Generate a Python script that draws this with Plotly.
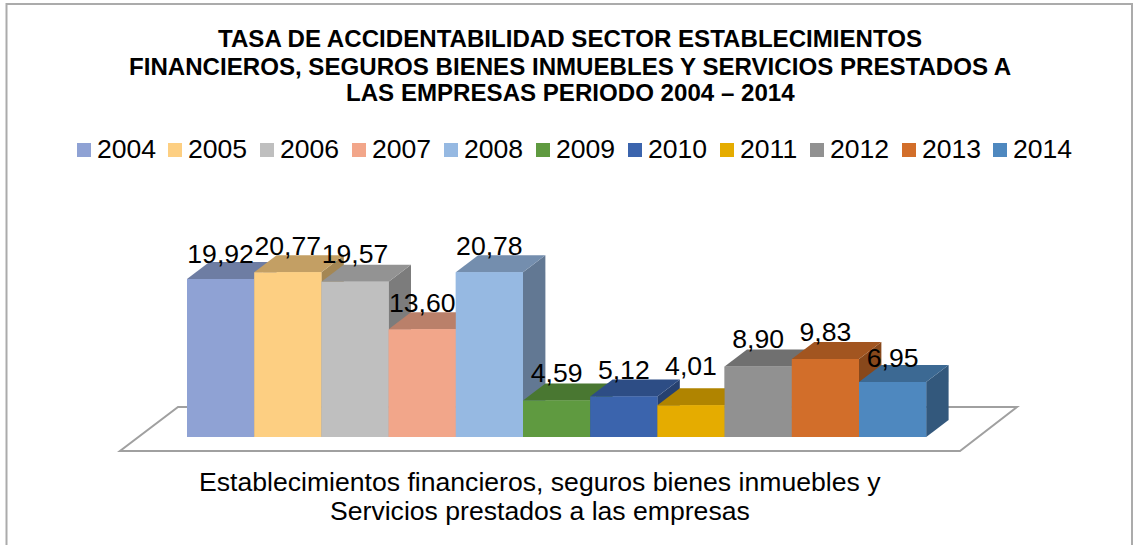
import plotly.graph_objects as go

years = ["2004", "2005", "2006", "2007", "2008", "2009", "2010", "2011", "2012", "2013", "2014"]
rates = [19.92, 20.77, 19.57, 13.60, 20.78, 4.59, 5.12, 4.01, 8.90, 9.83, 6.95]
labels = ["19,92", "20,77", "19,57", "13,60", "20,78", "4,59", "5,12", "4,01", "8,90", "9,83", "6,95"]
colors = ["#8FA2D4", "#FDCF82", "#BFBFBF", "#F2A68A", "#96B9E2", "#5F9A40",
          "#3B64AD", "#E5AC00", "#919191", "#D26E2A", "#4E88BF"]
title_lines = ["TASA DE ACCIDENTABILIDAD SECTOR ESTABLECIMIENTOS",
               "FINANCIEROS, SEGUROS BIENES INMUEBLES Y SERVICIOS PRESTADOS A",
               "LAS EMPRESAS PERIODO 2004 – 2014"]
axis_lines = ["Establecimientos financieros, seguros bienes inmuebles y",
              "Servicios prestados a las empresas"]

W, H = 1133, 545
PX_X, PX_Y = 67.2, 7.93          # pixels per category / per value unit
X0_PX, BASE_PX = 187.0, 437.0    # left edge of first bar, baseline
DX, DY = 22.4 / PX_X, 17 / PX_Y  # 3D depth in data units
LABEL_UP_PX = [23, 24, 25, 24, 24, 25, 24, 37, 25, 25, 22]
FONT = "Liberation Sans"
TEXT_SIZE = 26.6
LEGEND_X = [77, 168, 260, 352, 444, 536, 628, 720, 810, 902, 993]

x_range = [-X0_PX / PX_X - 0.5, (W - X0_PX) / PX_X - 0.5]
y_range = [-(H - BASE_PX) / PX_Y, BASE_PX / PX_Y]


def shade(hex_color, f):
    r, g, b = (int(hex_color[i:i + 2], 16) for i in (1, 3, 5))
    return f"rgb({r * f:.0f},{g * f:.0f},{b * f:.0f})"


def face(xs, ys, color):
    return go.Scatter(x=xs, y=ys, mode="lines", fill="toself", fillcolor=color,
                      line=dict(width=0), showlegend=False, hoverinfo="skip")


def text_note(text, x_px, y_px, size, anchor="center"):
    return dict(text=text, xref="paper", yref="paper", x=x_px / W, y=1 - y_px / H,
                showarrow=False, xanchor=anchor, yanchor="middle", borderpad=0, xshift=0,
                font=dict(family=FONT, size=size, color="#000"))


fig = go.Figure()
for i, (yr, v, c) in enumerate(zip(years, rates, colors)):
    fig.add_trace(go.Bar(x=[i], y=[v], name=yr, width=1, marker=dict(color=c, line=dict(width=0)),
                         showlegend=False))

for i, (v, c) in enumerate(zip(rates, colors)):
    l, r = i - 0.5, i + 0.5
    fig.add_trace(face([r, r + DX, r + DX, r, r], [0, DY, v + DY, v, 0], shade(c, 0.65)))
    fig.add_trace(face([l, r, r + DX, l + DX, l], [v, v, v + DY, v + DY, v], shade(c, 0.77)))
    fig.add_trace(face([l, r, r, l, l], [0, 0, v, v, 0], c))

fig.add_trace(go.Scatter(x=list(range(len(rates))),
                         y=[v + up / PX_Y for v, up in zip(rates, LABEL_UP_PX)],
                         mode="text", text=labels, textposition="middle center",
                         textfont=dict(family=FONT, size=TEXT_SIZE, color="#000"),
                         showlegend=False, hoverinfo="skip"))

floor = [(120, 451), (960, 451), (1017, 407), (178, 407)]
floor_path = "M" + "L".join(f"{x / W:.5f},{1 - y / H:.5f}" for x, y in floor) + "Z"
shapes = [
    dict(type="path", xref="paper", yref="paper", path=floor_path, layer="below",
         line=dict(color="#A0A0A0", width=2), fillcolor="#FFFFFF"),
    dict(type="rect", xref="paper", yref="paper", x0=6.5 / W, x1=1132 / W, y0=-0.1, y1=1 - 4 / H,
         layer="below", line=dict(color="#ABABAB", width=2), fillcolor="rgba(0,0,0,0)"),
]

annotations = []
for line, yp in zip(title_lines, [38, 66, 93]):
    annotations.append(text_note(f"<b>{line}</b>", 570, yp, 24.1))
for line, yp in zip(axis_lines, [482, 511]):
    annotations.append(text_note(line, 540, yp, TEXT_SIZE))
for yr, c, xp in zip(years, colors, LEGEND_X):
    shapes.append(dict(type="rect", xref="paper", yref="paper", x0=xp / W, x1=(xp + 14) / W,
                       y0=1 - 157 / H, y1=1 - 143 / H, fillcolor=c, line=dict(width=0)))
    annotations.append(text_note(yr, xp + 19, 149, TEXT_SIZE, anchor="left"))

fig.update_layout(
    width=W, height=H, autosize=False, barmode="overlay", showlegend=False,
    margin=dict(l=0, r=0, t=0, b=0),
    paper_bgcolor="#FFFFFF", plot_bgcolor="rgba(0,0,0,0)",
    xaxis=dict(visible=False, range=x_range, fixedrange=True),
    yaxis=dict(visible=False, range=y_range, fixedrange=True),
    shapes=shapes, annotations=annotations,
)
fig.write_html("out.html", config=dict(displayModeBar=False),
               post_script="document.body.style.margin='0';document.body.style.overflow='hidden';")
